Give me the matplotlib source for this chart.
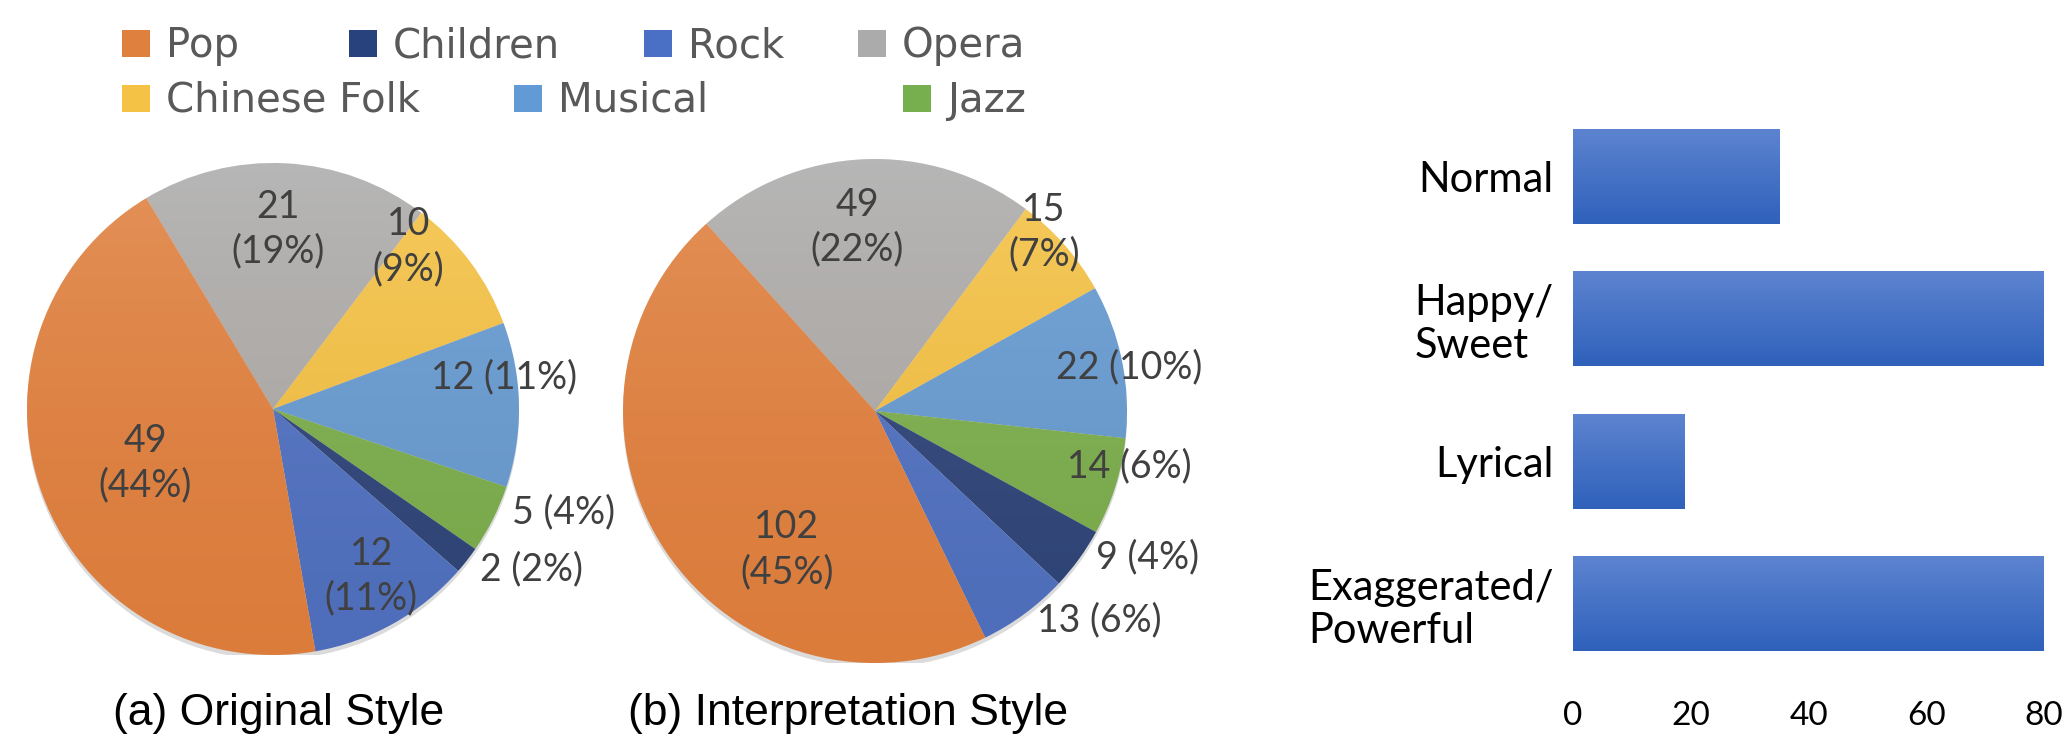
import numpy as np
import matplotlib
matplotlib.use('Agg')
import matplotlib.pyplot as plt
from matplotlib.patches import Rectangle, Circle
from matplotlib.colors import to_rgb

W, H = 2068, 738

# --- data ---
genres = ["Opera", "Chinese Folk", "Musical", "Jazz", "Children", "Rock", "Pop"]
original_counts = [21, 10, 12, 5, 2, 12, 49]
original_pct = [19, 9, 11, 4, 2, 11, 44]
interp_counts = [49, 15, 22, 14, 9, 13, 102]
interp_pct = [22, 7, 10, 6, 4, 6, 45]

styles = ["Normal", "Happy/\nSweet", "Lyrical", "Exaggerated/\nPowerful"]
style_counts = [35, 80, 19, 80]
style_ticks = [0, 20, 40, 60, 80]

legend_order = ["Pop", "Children", "Rock", "Opera", "Chinese Folk", "Musical", "Jazz"]

genre_colors = {
    "Pop": "#E0803F",
    "Children": "#27427C",
    "Rock": "#4A70C6",
    "Opera": "#ABABAB",
    "Chinese Folk": "#F4C244",
    "Musical": "#629AD6",
    "Jazz": "#77AF4E",
}

# --- layout (pixels / pie-radius units) ---
orig_label_pos = [(0.02, 0.73), (0.55, 0.66), (0.94, 0.13), (1.18, -0.42),
                  (1.05, -0.65), (0.40, -0.68), (-0.52, -0.22)]
orig_two_line = [True, True, False, False, False, True, True]
interp_label_pos = [(-0.07, 0.73), (0.67, 0.71), (1.01, 0.175), (1.01, -0.22),
                    (1.08, -0.58), (0.89, -0.83), (-0.35, -0.55)]
interp_two_line = [True, True, False, False, False, False, True]

legend_text_x = [166, 393, 688, 902, 166, 558, 947]
legend_baseline = [57, 57, 57, 57, 112, 112, 112]

LABEL_FONT = ['Lato', 'DejaVu Sans']
CAPTION_FONT = ['Liberation Sans', 'DejaVu Sans']

fig = plt.figure(figsize=(W / 100, H / 100), dpi=100)
fig.patch.set_facecolor('white')


def px_axes(left, top, right, bottom):
    return fig.add_axes([left / W, 1 - bottom / H, (right - left) / W, (bottom - top) / H])


def gradient(top_rgb, bottom_rgb, alpha_top=1.0, alpha_bottom=1.0, n=128):
    t = np.linspace(0, 1, n)[:, None]
    top = np.array(list(top_rgb) + [alpha_top])
    bot = np.array(list(bottom_rgb) + [alpha_bottom])
    return (top * (1 - t) + bot * t)[:, None, :].repeat(2, axis=1)


def draw_pie(ax, counts, pcts, start, label_pos, two_line):
    shadow = Circle((0.0, -0.018), 1.0, color='#9a9a9a', alpha=0.35, zorder=0, lw=0)
    ax.add_patch(shadow)
    wedges, _ = ax.pie(counts, colors=[genre_colors[g] for g in genres],
                       startangle=start, counterclock=False, radius=1,
                       wedgeprops=dict(linewidth=0))
    ax.set_aspect('auto')
    # soft light-to-dark sheen like the Office gradient fill
    clip = Circle((0, 0), 1.0, transform=ax.transData)
    img = ax.imshow(gradient((1, 1, 1), (0.55, 0.25, 0.0), 0.14, 0.06),
                    extent=(-1, 1, -1, 1), origin='upper', aspect='auto', zorder=2)
    img.set_clip_path(clip)
    for c, p, (x, y), tl in zip(counts, pcts, label_pos, two_line):
        s = f"{c}\n({p}%)" if tl else f"{c} ({p}%)"
        ax.text(x, y, s, ha='center', va='center', fontsize=27, color='#404040',
                family=LABEL_FONT, linespacing=1.3, zorder=5, clip_on=False)
    ax.set_xlim(-1, 1)
    ax.set_ylim(-1, 1)
    ax.axis('off')


ax_a = px_axes(27, 163, 519, 655)
draw_pie(ax_a, original_counts, original_pct, 121, orig_label_pos, orig_two_line)

ax_b = px_axes(623, 159, 1127, 663)
draw_pie(ax_b, interp_counts, interp_pct, 132, interp_label_pos, interp_two_line)

# captions
fig.text(279 / W, 1 - 714 / H, "(a) Original Style", ha='center', va='center',
         fontsize=32, family=CAPTION_FONT, color='black')
fig.text(848 / W, 1 - 714 / H, "(b) Interpretation Style", ha='center', va='center',
         fontsize=32, family=CAPTION_FONT, color='black')

# legend, laid out like the Excel one
for name, tx, by in zip(legend_order, legend_text_x, legend_baseline):
    sq = 28
    fig.add_artist(Rectangle(((tx - 44) / W, 1 - by / H), sq / W, (sq - 1) / H,
                             transform=fig.transFigure, color=genre_colors[name], lw=0))
    fig.text(tx / W, 1 - by / H, name, ha='left', va='baseline', fontsize=29,
             family=['DejaVu Sans'], color='#595959')

# --- bar chart ---
ax_c = px_axes(1573, 105, 2044, 675)
ypos = np.arange(len(styles))
bars = ax_c.barh(ypos, style_counts, height=0.67, color='#4070C4', lw=0)
for b in bars:
    x0, y0 = b.get_x(), b.get_y()
    x1, y1 = x0 + b.get_width(), y0 + b.get_height()
    im = ax_c.imshow(gradient(to_rgb('#5D84D0'), to_rgb('#2F61BB')),
                     extent=(x0, x1, y1, y0), origin='upper', aspect='auto', zorder=3)
    im.set_clip_path(b)
ax_c.set_xlim(0, 80)
ax_c.set_ylim(len(styles) - 0.5, -0.5)
ax_c.set_yticks(ypos)
ax_c.set_yticklabels(styles, fontsize=30, family=LABEL_FONT, color='black',
                     multialignment='left', linespacing=1.15)
ax_c.set_xticks(style_ticks)
ax_c.set_xticklabels([str(t) for t in style_ticks], fontsize=24, family=LABEL_FONT,
                     color='black')
ax_c.tick_params(axis='y', length=0, pad=14)
ax_c.tick_params(axis='x', length=0, pad=19)
for sp in ax_c.spines.values():
    sp.set_visible(False)

fig.savefig("out.png", dpi=100, facecolor='white')
